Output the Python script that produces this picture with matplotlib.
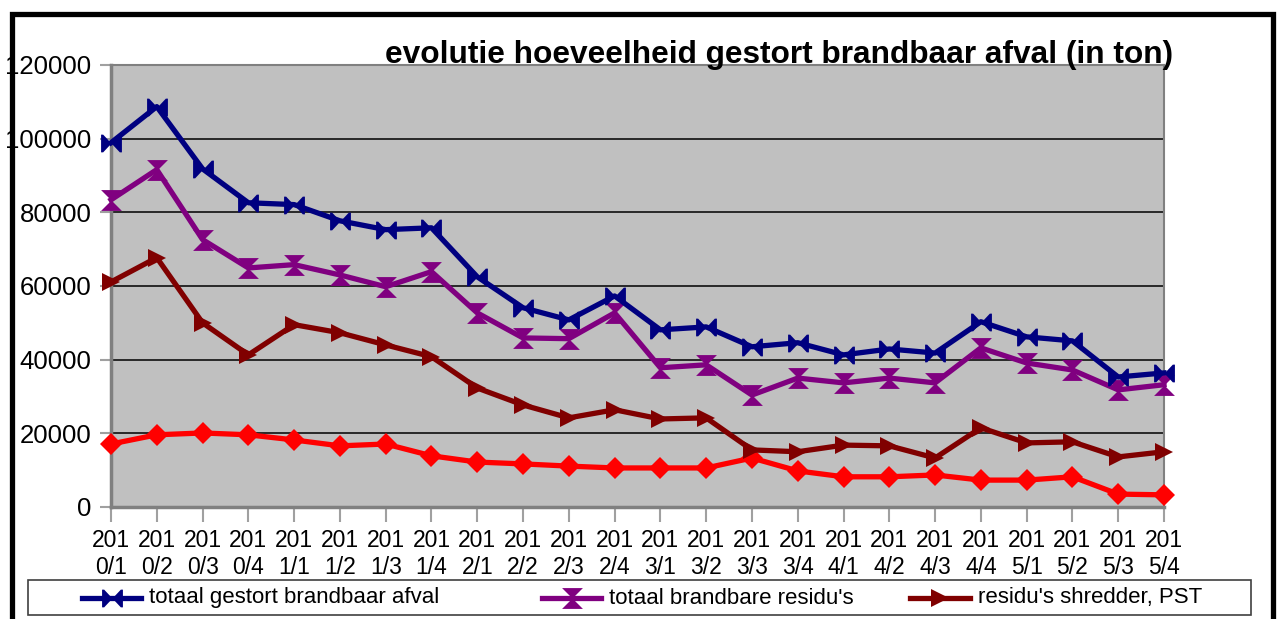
import matplotlib
matplotlib.use("Agg")
import matplotlib.pyplot as plt
from matplotlib.lines import Line2D
from matplotlib.patches import Rectangle

plt.rcParams['font.family'] = ['Liberation Sans', 'DejaVu Sans']

quarters = ["2010/1", "2010/2", "2010/3", "2010/4",
            "2011/1", "2011/2", "2011/3", "2011/4",
            "2012/1", "2012/2", "2012/3", "2012/4",
            "2013/1", "2013/2", "2013/3", "2013/4",
            "2014/1", "2014/2", "2014/3", "2014/4",
            "2015/1", "2015/2", "2015/3", "2015/4"]
tick_labels = [q[:3] + "\n" + q[3:] for q in quarters]

totaal_gestort = [98900, 108700, 91800, 82600, 82100, 77700, 75300, 75800,
                  62500, 54100, 50800, 57300, 48100, 48900, 43500, 44600,
                  41300, 42900, 41800, 50300, 46200, 45100, 35300, 36400]
totaal_residus = [83400, 91600, 72600, 64900, 65800, 63000, 59800, 63900,
                  52700, 45900, 45700, 52700, 37800, 38600, 30400, 35000,
                  33700, 35000, 33700, 43200, 39100, 37200, 31800, 33200]
shredder_pst = [61100, 67700, 50000, 41300, 49500, 47300, 44000, 40800,
                32300, 27700, 24200, 26400, 23900, 24200, 15500, 15000,
                16800, 16600, 13300, 21500, 17400, 17700, 13600, 15000]
vierde_reeks = [17100, 19600, 20100, 19600, 18200, 16600, 17100, 13900,
                12200, 11700, 11100, 10600, 10600, 10600, 13300, 9800,
                8200, 8200, 8700, 7300, 7300, 8200, 3500, 3300]

series_names = ["totaal gestort brandbaar afval", "totaal brandbare residu's",
                "residu's shredder, PST"]
title = "evolutie hoeveelheid gestort brandbaar afval (in ton)"

W, H = 1277, 619
fig = plt.figure(figsize=(W / 100, H / 100), dpi=100)
fig.patch.set_facecolor('white')
ax = fig.add_axes([111 / W, 1 - 507 / H, (1164 - 111) / W, (507 - 65) / H])
ax.set_facecolor('#C0C0C0')

bowtie = [(-1, -0.85), (-0.8, -0.85), (0, 0), (0.8, -0.85), (1, -0.85),
          (1, 0.85), (0.8, 0.85), (0, 0), (-0.8, 0.85), (-1, 0.85), (-1, -0.85)]
hourglass = [(-1, 1), (1, 1), (-1, -1), (1, -1), (-1, 1)]

x = list(range(len(quarters)))
styles = [
    (vierde_reeks, '#FF0000', 'D', 11, None),
    (shredder_pst, '#800000', '>', 13, series_names[2]),
    (totaal_residus, '#800080', hourglass, 15, series_names[1]),
    (totaal_gestort, '#000080', bowtie, 15, series_names[0]),
]
for vals, col, mk, ms, lab in styles:
    ax.plot(x, vals, color=col, lw=3.8, marker=mk, markersize=ms,
            markeredgewidth=0, markerfacecolor=col, zorder=3, clip_on=False)

ax.set_xlim(0, len(quarters) - 1)
ax.set_ylim(0, 120000)
ax.set_yticks(range(0, 120001, 20000))
ax.set_yticklabels([str(v) for v in range(0, 120001, 20000)])
ax.set_xticks(x)
ax.set_xticklabels(tick_labels)
ax.yaxis.grid(True, color='black', lw=1.1)
ax.set_axisbelow(True)
for s in ax.spines.values():
    s.set_color('#808080')
    s.set_linewidth(1.5)
ax.spines['left'].set_linewidth(2.5)
ax.spines['bottom'].set_linewidth(2.5)
ax.tick_params(axis='y', labelsize=18.5, length=8, width=1.5, color='#A0A0A0', pad=6)
ax.tick_params(axis='x', labelsize=16.5, length=11, width=1.5, color='#A0A0A0', pad=5)

fig.text(779 / W, 1 - 63 / H, title, ha='center', va='baseline',
         fontsize=22.8, fontweight='bold', zorder=10)

# outer frame
fig.add_artist(Rectangle((12 / W, -0.2), (1273 - 12) / W, 1.2 - 14 / H,
                         transform=fig.transFigure, fill=False,
                         edgecolor='black', lw=3.8, zorder=20))

# legend box
fig.add_artist(Rectangle((28 / W, 1 - 615 / H), (1251 - 28) / W, 35 / H,
                         transform=fig.transFigure, fill=False,
                         edgecolor='#404040', lw=1.2, zorder=5))
leg_y = 1 - 598 / H
leg_pos = [(82, 141, 149), (542, 601, 609), (910, 970, 978)]
leg_styles = [styles[3], styles[2], styles[1]]
for (x0, x1, tx), (vals, col, mk, ms, lab) in zip(leg_pos, leg_styles):
    fig.add_artist(Line2D([x0 / W, x1 / W], [leg_y, leg_y], transform=fig.transFigure,
                          color=col, lw=3.8, zorder=6))
    fig.add_artist(Line2D([(x0 + x1) / 2 / W], [leg_y], transform=fig.transFigure,
                          color=col, marker=mk, markersize=ms, markeredgewidth=0,
                          lw=0, zorder=7))
    fig.text(tx / W, leg_y, lab, ha='left', va='center', fontsize=16)

fig.savefig('out.png', dpi=100)
